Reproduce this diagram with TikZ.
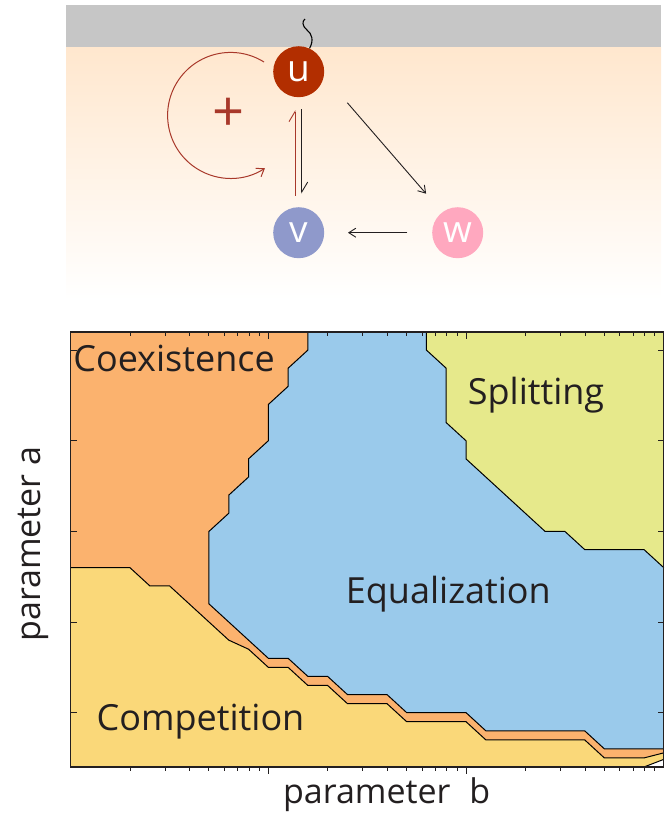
\documentclass[tikz,border=0pt]{standalone}
\usepackage{fontspec}
\setmainfont{Open Sans}
\usetikzlibrary{arrows.meta,positioning,calc}
\definecolor{ucol}{RGB}{178,46,0}
\definecolor{vcol}{RGB}{143,153,203}
\definecolor{wcol}{RGB}{255,168,191}
\definecolor{loopred}{RGB}{168,56,42}
\definecolor{band}{RGB}{198,198,198}
\definecolor{peach}{RGB}{255,231,206}
\definecolor{ink}{RGB}{35,31,32}
\definecolor{coex}{RGB}{251,178,110}
\definecolor{equal}{RGB}{154,202,235}
\definecolor{split}{RGB}{230,233,139}
\definecolor{compet}{RGB}{250,216,121}

\tikzset{
  species/.style={circle, minimum size=51pt, inner sep=0pt, text=white,
    font=\fontsize{37}{37}\selectfont},
  act/.style={-{Straight Barb[length=7pt,width=9pt]}, line width=0.9pt, ink},
  harpoon/.style={-{Straight Barb[left,length=10pt,width=12pt]}, line width=0.9pt},
  regionlabel/.style={anchor=base, text=ink, font=\fontsize{36}{36}\selectfont},
  axislabel/.style={anchor=base, text=ink, font=\fontsize{34}{34}\selectfont},
  border/.style={line width=1pt, black},
  tick/.style={line width=0.7pt, ink},
}

\begin{document}
\begin{tikzpicture}[x=1pt, y=-1pt]
  \useasboundingbox (0,0) rectangle (669,820);

  % network on top
  \fill[band] (66,5) rectangle (661,47.3);
  \shade[top color=peach, bottom color=white] (66,47.3) rectangle (661,300);
  \node[species, fill=ucol] (u) at (298.7,71.7) {u};
  \node[species, fill=vcol, below=109.6pt of u] (v) {v};
  \node[species, fill=wcol, right=107.6pt of v] (w) {w};
  \coordinate (tether) at (305,19);
  \draw[line width=1.1pt] (u.65) .. controls (314,40) and (312,34) .. (307,30)
    .. controls (302,26) and (302,21) .. (tether);
  \coordinate (loopstart) at (264,62);
  \draw[loopred, line width=1pt, -{Straight Barb[length=7pt,width=10pt]}]
    (loopstart) arc[start angle=-58, end angle=-303, radius=63];
  \node[text=loopred, font=\fontsize{56}{56}\selectfont] (plus) at (229,115) {+};
  \draw[harpoon, ink, shorten <=11.6pt, shorten >=13.3pt]
    ([xshift=3pt]u.south) -- ([xshift=3pt]v.north);
  \draw[harpoon, loopred, shorten <=11.3pt, shorten >=12.6pt]
    ([xshift=-3.7pt]v.north) -- ([xshift=-3.7pt]u.south);
  \draw[act] ($(u)+(48.6,31)$) -- ($(w)+(-31.6,-39)$);
  \draw[act, shorten <=24.6pt, shorten >=23.6pt] (w) -- (v);

  % phase diagram
  \begin{scope}[shift={(70.6,767)}, x=19.77pt, y=18.125pt]
    \fill[coex] (0,0) rectangle (30,24);
    \fill[equal] (12,24) -- (12,23) -- (11,22) -- (11,21) -- (10,20) -- (10,18)
      -- (9,17) -- (9,16) -- (8,15) -- (8,14) -- (7,13) -- (7,9) -- (10,6)
      -- (11,6) -- (12,5) -- (13,5) -- (14,4) -- (16,4) -- (17,3) -- (20,3)
      -- (21,2) -- (26,2) -- (27,1) -- (30,1) -- (30,24) -- cycle;
    \fill[split] (18,24) -- (18,23) -- (19,22) -- (19,19) -- (20,18) -- (20,17)
      -- (24,13) -- (25,13) -- (26,12) -- (29,12) -- (30,11) -- (30,24) -- cycle;
    \fill[compet] (0,0) -- (0,11) -- (3,11) -- (4,10) -- (5,10) -- (8,7)
      -- (9,6.5) -- (10,5.5) -- (11,5.5) -- (12,4.5) -- (13,4.5) -- (14,3.5)
      -- (16,3.5) -- (17,2.5) -- (20,2.5) -- (21,1.5) -- (26,1.5) -- (27,0.5)
      -- (29,0.5) -- (30,0.78) -- (30,0.42) -- (29,0) -- cycle;
    \fill[white] (29,0) -- (30,0.42) -- (30,0) -- cycle;
    \draw[border] (12,24) -- (12,23) -- (11,22) -- (11,21) -- (10,20) -- (10,18)
      -- (9,17) -- (9,16) -- (8,15) -- (8,14) -- (7,13) -- (7,9) -- (10,6)
      -- (11,6) -- (12,5) -- (13,5) -- (14,4) -- (16,4) -- (17,3) -- (20,3)
      -- (21,2) -- (26,2) -- (27,1) -- (30,1);
    \draw[border] (18,24) -- (18,23) -- (19,22) -- (19,19) -- (20,18) -- (20,17)
      -- (24,13) -- (25,13) -- (26,12) -- (29,12) -- (30,11);
    \draw[border] (0,11) -- (3,11) -- (4,10) -- (5,10) -- (8,7)
      -- (9,6.5) -- (10,5.5) -- (11,5.5) -- (12,4.5) -- (13,4.5) -- (14,3.5)
      -- (16,3.5) -- (17,2.5) -- (20,2.5) -- (21,1.5) -- (26,1.5) -- (27,0.5)
      -- (29,0.5) -- (30,0.78);
    \draw[border] (29,0) -- (30,0.42);
    % log ticks on b, linear ticks on a
    \foreach \d in {0,1,2}{
      \foreach \k in {2,...,9}{
        \pgfmathsetmacro\xt{10*(\d+log10(\k))}
        \draw[tick] (\xt,0) -- ++(0,-4pt);
        \draw[tick] (\xt,24) -- ++(0,-4pt);
      }
    }
    \foreach \i in {10,20}{
      \draw[tick] (\i,0) -- ++(0,-7pt);
      \draw[tick] (\i,24) -- ++(0,-7pt);
    }
    \foreach \j in {3,8,...,23}{
      \draw[tick] (0,\j) -- ++(6pt,0);
      \draw[tick] (30,\j) -- ++(-6pt,0);
    }
    \draw[line width=1.2pt, ink] (0,0) rectangle (30,24);
  \end{scope}

  \node[regionlabel] (coexistence) at (174,371.7) {Coexistence};
  \node[regionlabel] (splitting) at (536,404.3) {Splitting};
  \node[regionlabel] (equalization) at (448.3,603.3) {Equalization};
  \node[regionlabel] (competition) at (200.5,730.7) {Competition};
  \node[axislabel] (xlabel) at (386.7,803.3) {parameter\hspace{10pt} b};
  \node[axislabel, anchor=center, rotate=90] (ylabel) at (33,544) {parameter a};
\end{tikzpicture}
\end{document}
